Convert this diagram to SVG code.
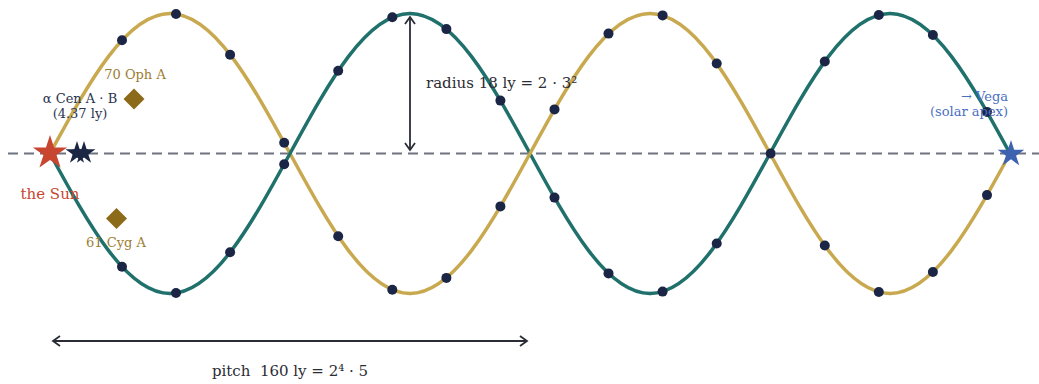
<svg xmlns="http://www.w3.org/2000/svg" width="1039" height="384" viewBox="0 0 1039 384">
<style>
.gold{fill:none;stroke:#c9a94f;stroke-width:3.5;stroke-linecap:round}
.teal{fill:none;stroke:#20706c;stroke-width:3.5;stroke-linecap:round}
.dot{fill:#1b2545}
.t{font-family:"DejaVu Serif","Liberation Serif",serif}
.dim{fill:none;stroke:#2a2c36;stroke-width:1.8}
</style>
<defs>
<marker id="chev" viewBox="0 0 12 12" refX="10" refY="6" markerWidth="12" markerHeight="12" markerUnits="userSpaceOnUse" orient="auto-start-reverse">
<path d="M3,1 L10,6 L3,11" fill="none" stroke="#2a2c36" stroke-width="1.8"/>
</marker>
<path id="star" d="M0,-1 L0.2245,-0.309 L0.9511,-0.309 L0.3633,0.118 L0.5878,0.809 L0,0.382 L-0.5878,0.809 L-0.3633,0.118 L-0.9511,-0.309 L-0.2245,-0.309 Z"/>
</defs>
<rect width="1039" height="384" fill="#ffffff"/>
<g id="axis">
<line x1="8" y1="153.5" x2="1039" y2="153.5" stroke="#6e7282" stroke-width="1.8" stroke-dasharray="10,6"/>
</g>
<g id="connectors">
<path class="teal" d="M50,153.5 C89.13,225.22 126.57,293.5 170,293.5"/>
<path class="teal" d="M410,13.5 C453.43,13.5 490.87,81.78 530,153.5 S606.57,293.5 650,293.5"/>
<path class="teal" d="M890,13.5 C933.43,13.5 970.87,81.78 1010,153.5"/>
<path class="gold" d="M170,13.5 C213.43,13.5 250.87,81.78 290,153.5 S366.57,293.5 410,293.5"/>
<path class="gold" d="M650,13.5 C693.43,13.5 730.87,81.78 770,153.5 S846.57,293.5 890,293.5"/>
<path class="gold" d="M50,153.5 C89.13,81.78 126.57,13.5 170,13.5"/>
<path class="gold" d="M410,293.5 C453.43,293.5 490.87,225.22 530,153.5 S606.57,13.5 650,13.5"/>
<path class="gold" d="M890,293.5 C933.43,293.5 970.87,225.22 1010,153.5"/>
<path class="teal" d="M170,293.5 C213.43,293.5 250.87,225.22 290,153.5 S366.57,13.5 410,13.5"/>
<path class="teal" d="M650,293.5 C693.43,293.5 730.87,225.22 770,153.5 S846.57,13.5 890,13.5"/>
<line class="dim" x1="410" y1="17" x2="410" y2="150" marker-start="url(#chev)" marker-end="url(#chev)"/>
<line class="dim" x1="53" y1="341" x2="527" y2="341" marker-start="url(#chev)" marker-end="url(#chev)"/>
</g>
<g id="dots">
<circle class="dot" cx="122" cy="40.2" r="5"/><circle class="dot" cx="122" cy="266.8" r="5"/>
<circle class="dot" cx="176" cy="14" r="5"/><circle class="dot" cx="176" cy="293" r="5"/>
<circle class="dot" cx="230.1" cy="54.7" r="5"/><circle class="dot" cx="230.1" cy="252.3" r="5"/>
<circle class="dot" cx="284.2" cy="142.8" r="5"/><circle class="dot" cx="284.2" cy="164.2" r="5"/>
<circle class="dot" cx="338.2" cy="236.2" r="5"/><circle class="dot" cx="338.2" cy="70.8" r="5"/>
<circle class="dot" cx="392.3" cy="289.7" r="5"/><circle class="dot" cx="392.3" cy="17.3" r="5"/>
<circle class="dot" cx="446.4" cy="277.9" r="5"/><circle class="dot" cx="446.4" cy="29.1" r="5"/>
<circle class="dot" cx="500.4" cy="206.4" r="5"/><circle class="dot" cx="500.4" cy="100.6" r="5"/>
<circle class="dot" cx="554.5" cy="109.4" r="5"/><circle class="dot" cx="554.5" cy="197.6" r="5"/>
<circle class="dot" cx="608.5" cy="33.6" r="5"/><circle class="dot" cx="608.5" cy="273.4" r="5"/>
<circle class="dot" cx="662.6" cy="15.4" r="5"/><circle class="dot" cx="662.6" cy="291.6" r="5"/>
<circle class="dot" cx="716.7" cy="63.5" r="5"/><circle class="dot" cx="716.7" cy="243.5" r="5"/>
<circle class="dot" cx="770.7" cy="153.5" r="5"/>
<circle class="dot" cx="824.8" cy="245.5" r="5"/><circle class="dot" cx="824.8" cy="61.5" r="5"/>
<circle class="dot" cx="878.8" cy="292" r="5"/><circle class="dot" cx="878.8" cy="15" r="5"/>
<circle class="dot" cx="932.9" cy="272" r="5"/><circle class="dot" cx="932.9" cy="35" r="5"/>
<circle class="dot" cx="987" cy="195.1" r="5"/><circle class="dot" cx="987" cy="111.9" r="5"/>
</g>
<g id="sun">
<use href="#star" transform="translate(50,153) scale(18)" fill="#c8452f"/>
<text class="t" x="50" y="199" font-size="15" fill="#c8452f" text-anchor="middle">the Sun</text>
</g>
<g id="alpha-cen">
<use href="#star" transform="translate(77,153) scale(12)" fill="#1b2645"/>
<use href="#star" transform="translate(84,153) scale(12)" fill="#1b2645"/>
<text class="t" font-size="13" fill="#2a3350" text-anchor="middle"><tspan x="80" y="103">α Cen A · B</tspan><tspan x="80" y="118">(4.37 ly)</tspan></text>
</g>
<g id="oph">
<path d="M134,88.5 L144.5,99 L134,109.5 L123.5,99 Z" fill="#8b6b1a"/>
<text class="t" x="135" y="79" font-size="13" fill="#9b7d32" text-anchor="middle">70 Oph A</text>
</g>
<g id="cyg">
<path d="M116.5,208 L127,218.5 L116.5,229 L106,218.5 Z" fill="#8b6b1a"/>
<text class="t" x="116" y="247" font-size="13" fill="#9b7d32" text-anchor="middle">61 Cyg A</text>
</g>
<g id="vega">
<use href="#star" transform="translate(1011,154) scale(14)" fill="#3d62b0"/>
<text class="t" font-size="13" fill="#4a6fc0" text-anchor="end"><tspan x="1008" y="101">→ Vega</tspan><tspan x="1008" y="116">(solar apex)</tspan></text>
</g>
<g id="labels">
<text class="t" x="426" y="88" font-size="15" fill="#2b2c34">radius 18 ly = 2 · 3²</text>
<text class="t" x="290" y="376" font-size="15" fill="#2b2c34" text-anchor="middle" xml:space="preserve">pitch  160 ly = 2⁴ · 5</text>
</g>
</svg>
